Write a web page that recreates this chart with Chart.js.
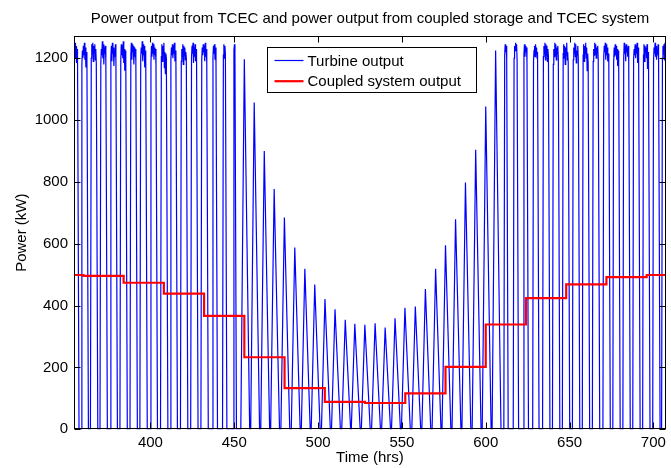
<!DOCTYPE html>
<html><head><meta charset="utf-8">
<script src="https://cdn.jsdelivr.net/npm/chart.js@4.4.1/dist/chart.umd.min.js"></script>
<style>html,body{margin:0;padding:0;background:#fff}#wrap{width:671px;height:468px}</style>
</head><body><div id="wrap"><canvas id="c" width="671" height="468"></canvas></div>
<script>
// ---- data ----
const chartTitle = 'Power output from TCEC and power output from coupled storage and TCEC system';
const seriesNames = ['Turbine output', 'Coupled system output'];
// centre time (hrs) of each generation pulse of the turbine
const peakTimes = [355.0, 360.6, 366.2, 371.9, 377.9, 383.8, 389.8, 395.7, 401.8, 408.0,
  413.7, 419.9, 426.0, 432.1, 438.2, 444.1, 450.1, 456.0, 461.9, 467.9,
  473.8, 479.9, 486.1, 492.1, 498.0, 504.1, 510.1, 516.2, 521.9, 527.9,
  534.0, 540.0, 545.9, 551.8, 558.0, 564.0, 570.1, 576.0, 582.0, 587.9,
  594.0, 600.0, 605.9, 611.9, 617.8, 623.7, 629.7, 635.9, 641.8, 647.7,
  653.7, 659.6, 665.6, 671.9, 677.8, 683.8, 689.7, 695.6, 701.6, 706.6];
// power (kW) across the top of each pulse
const peakTops = [
  [1190,1235,1205,1245,1215,1250,1200,1240,1185,1230,1210],
  [1180,1225,1200,1240,1210,1250,1195,1235,1170,1220,1200],
  [1200,1245,1215,1250,1190,1240,1220,1245,1195,1230,1185],
  [1185,1230,1210,1255,1200,1245,1180,1235,1215,1240,1190],
  [1205,1240,1190,1250,1215,1235,1175,1225,1205,1245,1195],
  [1190,1245,1210,1240,1200,1255,1185,1230,1160,1225,1200],
  [1210,1250,1195,1245,1220,1240,1180,1235,1205,1230,1190],
  [1200,1235,1215,1255,1190,1245,1210,1240,1170,1225,1205],
  [1185,1240,1205,1250,1215,1245,1195,1235,1210,1230,1180],
  [1205,1245,1190,1240,1215,1250,1170,1220,1150,1215,1200],
  [1195,1235,1210,1245,1200,1240,1215,1250,1190,1225,1185],
  [1190,1230,1205,1245,1180,1240,1210,1235,1195,1220,1200],
  [1200,1240,1215,1250,1185,1235,1205,1245,1190,1230,1210],
  [1195,1235,1210,1245,1220,1240,1190,1250,1205,1230,1185],
  [1205,1240,1215,1245,1195,1235,1185],
  [1210,1245,1200,1240,1215],
  [1225,1245,1215],
  [1197],[1057],[900],
  [777],[685],[588],[519],[468],[421],[388],[354],[341],[338],
  [343],[329],[359],[393],[397],[454],[519],[595],[679],[798],
  [904],[1044],[1225],
  [1210,1245,1220,1240,1200],
  [1200,1240,1225,1250,1230,1245,1195],
  [1215,1245,1205,1240,1220,1235,1190],
  [1190,1225,1240,1205,1245,1215,1235,1200,1220],
  [1205,1240,1215,1250,1195,1245,1210,1240,1190,1230,1205],
  [1180,1230,1205,1250,1210,1245,1195,1235,1215,1240,1200],
  [1215,1245,1200,1240,1180,1235,1210,1250,1195,1220,1185],
  [1195,1235,1215,1250,1205,1245,1185,1225,1210,1240,1200],
  [1210,1245,1190,1240,1215,1250,1200,1235,1160,1215,1185],
  [1190,1230,1210,1250,1215,1245,1200,1235,1220,1240,1195],
  [1205,1240,1220,1250,1195,1245,1210,1235,1190,1215,1200],
  [1185,1235,1205,1245,1210,1240,1195,1230,1175,1225,1200],
  [1200,1250,1215,1240,1190,1245,1220,1235,1205,1240,1190],
  [1195,1230,1210,1245,1200,1240,1215,1250,1185,1235,1205],
  [1210,1245,1190,1240,1220,1235,1200,1245,1165,1220,1195],
  [1190,1235,1215,1250,1205,1240,1195,1230,1210,1245,1200],
  [1200,1240,1215,1245,1195,1250,1210,1235,1190]
];
// coupled system output: value holds from each time until the next one
const stepTimes  = [354.4, 360, 384, 408, 432, 456, 480, 504, 528, 552, 576, 600, 624, 648, 672, 696, 707.5];
const stepValues = [499, 496, 474, 439, 367, 233, 133, 89, 85, 116, 202, 339, 424, 469, 492, 499, 499];
const xTicks = [400, 450, 500, 550, 600, 650, 700];
const yTicks = [0, 200, 400, 600, 800, 1000, 1200];
const xRange = [354.4, 707.5];
const yRange = [0, 1272];

// ---- build point lists ----
const turbinePts = [];
peakTimes.forEach((c, i) => {
  const tops = peakTops[i];
  if (tops.length === 1) {
    turbinePts.push({x: c - 2.1, y: 0}, {x: c, y: tops[0]}, {x: c + 3.2, y: 0});
  } else {
    const n = tops.length, s = 0.3, t0 = c - (n - 1) * s / 2;
    turbinePts.push({x: t0 - 0.5, y: 0});
    tops.forEach((v, k) => turbinePts.push({x: t0 + k * s, y: v}));
    turbinePts.push({x: t0 + (n - 1) * s + 0.9, y: 0});
  }
});
const stepPts = stepTimes.map((t, i) => ({x: t, y: stepValues[i]}));

const FONT = 'Liberation Sans, Arial, Helvetica, sans-serif';
const font15 = {family: FONT, size: 15};

const frame = {
  id: 'frame',
  afterDatasetsDraw(chart) {
    const {ctx, chartArea: a, scales: {x, y}} = chart;
    ctx.save();
    ctx.strokeStyle = '#000';
    ctx.lineWidth = 1;
    ctx.beginPath();
    const L = Math.round(a.left) + 0.5, R = Math.round(a.right) - 0.5;
    const T = Math.round(a.top) + 0.5, B = Math.round(a.bottom) - 0.5;
    xTicks.forEach(v => {
      const px = Math.round(x.getPixelForValue(v)) + 0.5;
      ctx.moveTo(px, B); ctx.lineTo(px, B - 6);
      ctx.moveTo(px, T); ctx.lineTo(px, T + 6);
    });
    yTicks.forEach(v => {
      const py = Math.round(y.getPixelForValue(v)) + 0.5;
      ctx.moveTo(L, py); ctx.lineTo(L + 6, py);
      ctx.moveTo(R, py); ctx.lineTo(R - 6, py);
    });
    ctx.stroke();
    ctx.strokeRect(L, T, R - L, B - T);
    // legend
    const ds = chart.data.datasets;
    const bx = Math.round(a.left + 193) + 0.5, by = Math.round(a.top + 11) + 0.5;
    const bw = 209, bh = 45;
    ctx.fillStyle = '#fff';
    ctx.fillRect(bx, by, bw, bh);
    ctx.strokeRect(bx, by, bw, bh);
    ctx.font = '15px ' + FONT;
    ctx.textBaseline = 'middle';
    ctx.textAlign = 'left';
    [0, 1].forEach(i => {
      const yy = by + 13 + i * 20.7;
      ctx.beginPath();
      ctx.strokeStyle = ds[i].borderColor;
      ctx.lineWidth = ds[i].borderWidth;
      ctx.moveTo(bx + 7, yy); ctx.lineTo(bx + 36, yy);
      ctx.stroke();
      ctx.fillStyle = '#000';
      ctx.fillText(ds[i].label, bx + 40, yy + 1);
    });
    ctx.restore();
  }
};

new Chart(document.getElementById('c'), {
  type: 'line',
  data: {
    datasets: [
      {label: seriesNames[0], data: turbinePts, borderColor: '#0000ff', borderWidth: 1.2,
       pointRadius: 0, tension: 0, fill: false, order: 1},
      {label: seriesNames[1], data: stepPts, borderColor: '#ff0000', borderWidth: 2.2,
       pointRadius: 0, stepped: 'before', fill: false, order: 0}
    ]
  },
  options: {
    animation: false, responsive: false, maintainAspectRatio: false,
    layout: {padding: {left: 0, right: 3, top: 0, bottom: 0}},
    plugins: {
      legend: {display: false}, tooltip: {enabled: false},
      title: {display: true, text: chartTitle, fullSize: false, color: '#000',
              font: {family: FONT, size: 15, weight: 'normal'}, padding: {top: 10, bottom: 8}}
    },
    scales: {
      x: {type: 'linear', min: xRange[0], max: xRange[1],
          afterBuildTicks: s => { s.ticks = xTicks.map(v => ({value: v})); },
          afterFit: s => { s.height = 38.7; },
          grid: {display: false, drawTicks: false}, border: {display: false},
          ticks: {font: font15, color: '#000', padding: 5, maxRotation: 0, autoSkip: false,
                  callback: v => String(v)},
          title: {display: true, text: 'Time (hrs)', color: '#000', font: font15, padding: {top: 0, bottom: 1}}},
      y: {type: 'linear', min: yRange[0], max: yRange[1],
          afterBuildTicks: s => { s.ticks = yTicks.map(v => ({value: v})); },
          afterFit: s => { s.width = 74; },
          grid: {display: false, drawTicks: false}, border: {display: false},
          ticks: {font: font15, color: '#000', padding: 6, autoSkip: false,
                  callback: v => String(v)},
          title: {display: true, text: 'Power (kW)', color: '#000', font: font15, padding: {top: 13, bottom: 0}}}
    }
  },
  plugins: [frame]
});
</script></body></html>
